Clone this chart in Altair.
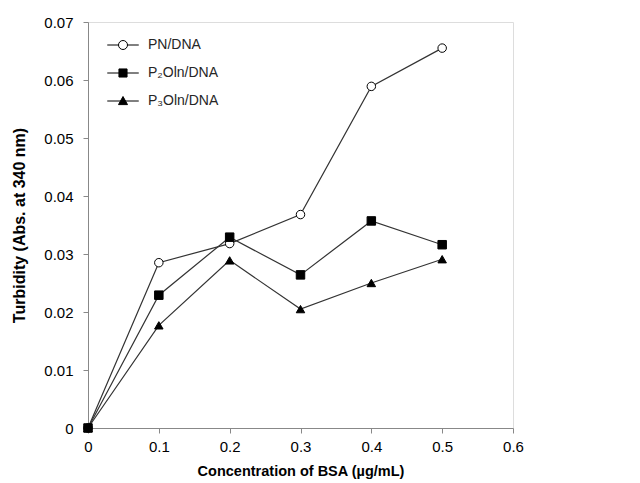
import altair as alt
import pandas as pd

concentration = [0.0, 0.1, 0.2, 0.3, 0.4, 0.5]
series_names = ["PN/DNA", "P₂Oln/DNA", "P₃Oln/DNA"]
pn_dna = [0.0, 0.0285, 0.0318, 0.0368, 0.0589, 0.0655]
p2oln_dna = [0.0, 0.0229, 0.0329, 0.0264, 0.0357, 0.0316]
p3oln_dna = [0.0, 0.0177, 0.0289, 0.0205, 0.0250, 0.0291]
x_ticks = [0, 0.1, 0.2, 0.3, 0.4, 0.5, 0.6]
y_ticks = [0, 0.01, 0.02, 0.03, 0.04, 0.05, 0.06, 0.07]

rows = []
for name, vals in zip(series_names, [pn_dna, p2oln_dna, p3oln_dna]):
    for c, v in zip(concentration, vals):
        rows.append({"conc": c, "turb": v, "series": name})
df = pd.DataFrame(rows)

FONT = "Liberation Sans"
TXT = "#262626"

x = alt.X("conc:Q", title="Concentration of BSA (µg/mL)",
          scale=alt.Scale(domain=[0, 0.6], nice=False, zero=True),
          axis=alt.Axis(values=x_ticks, grid=False, labelExpr="'' + datum.value",
                        tickSize=5, labelPadding=6, titlePadding=10,
                        labelFontSize=15, titleFontSize=14.5, titleFontWeight="bold",
                        labelFlush=False))
y = alt.Y("turb:Q", title="Turbidity (Abs. at 340 nm)",
          scale=alt.Scale(domain=[0, 0.07], nice=False),
          axis=alt.Axis(values=y_ticks, grid=False, labelExpr="'' + datum.value",
                        tickSize=5, labelPadding=10, titlePadding=16,
                        labelFontSize=15, titleFontSize=16, titleFontWeight="bold",
                        labelFlush=False))

lines = alt.Chart(df).mark_line(color="#333333", strokeWidth=1.2).encode(
    x=x, y=y, detail="series:N")

points = alt.Chart(df).mark_point(size=72, stroke="black", strokeWidth=1, opacity=1).encode(
    x=x, y=y,
    shape=alt.Shape("series:N", scale=alt.Scale(domain=series_names,
                                               range=["circle", "square", "triangle-up"]),
                    legend=None),
    fill=alt.Fill("series:N", scale=alt.Scale(domain=series_names,
                                             range=["white", "black", "black"]),
                  legend=None),
)

circle_path = ("M-3.5,0H-1M1,0H3.5"
               "M1,0A1,1 0 1,1 -1,0A1,1 0 1,1 1,0Z")
square_path = "M-3.5,0H3.5M-0.9,-0.9H0.9V0.9H-0.9Z"
tri_path = "M-3.5,0H3.5M0,-1L1,0.8H-1Z"

legend_def = dict(title=None, orient="none", legendX=28, legendY=16,
                  symbolSize=81, symbolOpacity=1,
                  symbolStrokeWidth=1, labelOffset=18, labelFontSize=14,
                  labelFont=FONT, labelColor=TXT, rowPadding=14, padding=0)

legend_layer = alt.Chart(df).mark_point(size=0, strokeWidth=1).encode(
    x=x, y=y,
    shape=alt.Shape("series:N",
                    scale=alt.Scale(domain=series_names, range=[circle_path, square_path, tri_path]),
                    legend=alt.Legend(**legend_def)),
    fill=alt.Fill("series:N", scale=alt.Scale(domain=series_names,
                                             range=["white", "black", "black"]),
                  legend=alt.Legend(**legend_def)),
    stroke=alt.Stroke("series:N", scale=alt.Scale(domain=series_names,
                                                 range=["black", "black", "black"]),
                      legend=alt.Legend(**legend_def)),
)

chart = alt.layer(lines, points, legend_layer).resolve_scale(
    shape="independent", fill="independent", stroke="independent"
).properties(
    width=425, height=406,
    autosize=alt.AutoSizeParams(type="none"),
    padding={"left": 80, "top": 14, "right": 119, "bottom": 53},
).configure_view(stroke=None).configure_axis(
    labelFont=FONT, titleFont=FONT, labelColor=TXT, titleColor=TXT,
    domainColor="#333333", tickColor="#333333", domainWidth=1, tickWidth=1,
).configure(background="white")

chart.save("out.html", embed_options={"renderer": "svg", "actions": False})
